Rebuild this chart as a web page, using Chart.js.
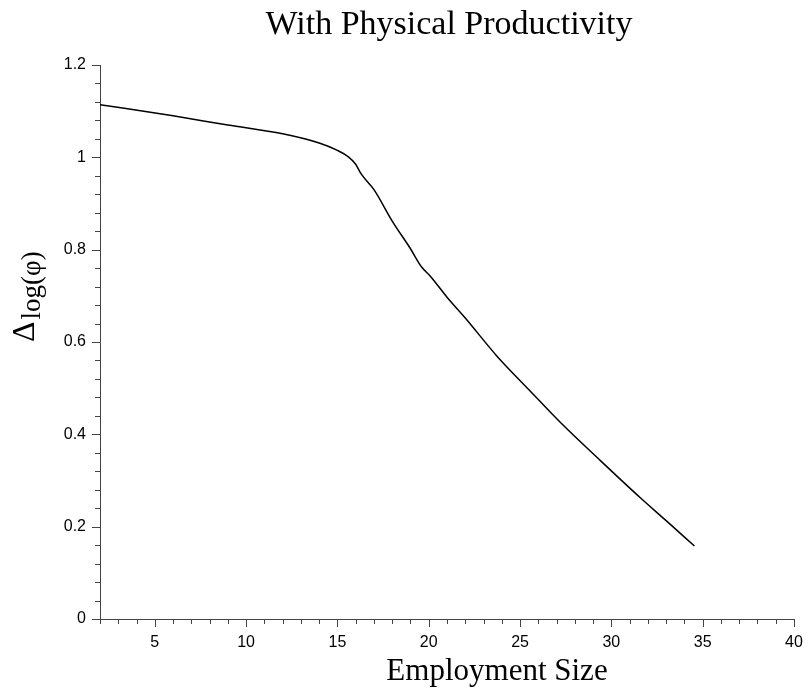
<!DOCTYPE html>
<html>
<head>
<meta charset="utf-8">
<script src="https://cdn.jsdelivr.net/npm/chart.js@4/dist/chart.umd.min.js"></script>
<style>
  html, body { margin: 0; padding: 0; background: #fff; }
  #wrap { width: 808px; height: 698px; }
</style>
</head>
<body>
<div id="wrap"><canvas id="prodChart" width="808" height="698"></canvas></div>
<script>
// employment size (x) and Δ log(φ) (y)
const empSize = [2, 6, 9, 12, 14, 15, 15.6, 16.0, 16.3, 17, 18, 19, 19.6, 20.1, 21, 22, 23.7, 25.5, 27.2, 29.4, 31.6, 33, 34.55];
const deltaLog = [1.114, 1.090, 1.070, 1.051, 1.031, 1.015, 1.001, 0.985, 0.964, 0.930, 0.862, 0.802, 0.763, 0.742, 0.697, 0.652, 0.571, 0.496, 0.426, 0.343, 0.262, 0.213, 0.158];

const xMajor = [5, 10, 15, 20, 25, 30, 35, 40];
const yMajor = [0, 0.2, 0.4, 0.6, 0.8, 1, 1.2];

const chartTitle = "With Physical Productivity";
const xTitle = "Employment Size";

const points = empSize.map((x, i) => ({x: x, y: deltaLog[i]}));

function isMajor(v, list) {
    return list.some(m => Math.abs(m - v) < 1e-6);
}

// tick marks (long majors, short minors) and the text around the plot
const decorPlugin = {
    id: 'decor',
    afterDraw(chart) {
        const ctx = chart.ctx;
        const xs = chart.scales.x, ys = chart.scales.y;
        const area = chart.chartArea;
        ctx.save();
        ctx.strokeStyle = '#444';
        ctx.lineWidth = 1;
        ctx.beginPath();
        xs.ticks.forEach(t => {
            const px = Math.round(xs.getPixelForValue(t.value)) + 0.5;
            const len = isMajor(t.value, xMajor) ? 8 : 5;
            ctx.moveTo(px, area.bottom);
            ctx.lineTo(px, area.bottom + len);
        });
        ys.ticks.forEach(t => {
            const py = Math.round(ys.getPixelForValue(t.value)) + 0.5;
            const len = isMajor(t.value, yMajor) ? 8 : 5;
            ctx.moveTo(area.left, py);
            ctx.lineTo(area.left - len, py);
        });
        ctx.stroke();

        ctx.fillStyle = '#000';
        ctx.textAlign = 'center';
        ctx.textBaseline = 'alphabetic';
        ctx.font = '34px "Liberation Serif", serif';
        ctx.fillText(chartTitle, 449, 34);
        ctx.font = '31px "Liberation Serif", serif';
        ctx.fillText(xTitle, 497, 680);

        // rotated y label: Δ with log(φ) as subscript
        ctx.translate(34, 342);
        ctx.rotate(-Math.PI / 2);
        ctx.textAlign = 'left';
        ctx.font = '32px "Liberation Serif", serif';
        ctx.fillText('Δ', 0, 0);
        const dw = ctx.measureText('Δ').width;
        ctx.font = '27px "Liberation Serif", serif';
        ctx.fillText('log(φ)', dw + 2, 6);
        ctx.restore();
    }
};

new Chart('prodChart', {
    type: 'scatter',
    data: {
        datasets: [{
            data: points,
            showLine: true,
            borderColor: '#000',
            borderWidth: 1.5,
            pointRadius: 0,
            cubicInterpolationMode: 'monotone',
            fill: false
        }]
    },
    options: {
        responsive: false,
        animation: false,
        layout: {
            padding: {top: 65, right: 14, left: 0, bottom: 0}
        },
        plugins: {
            legend: {display: false},
            tooltip: {enabled: false}
        },
        scales: {
            x: {
                type: 'linear',
                min: 2,
                max: 40,
                afterFit: (scale) => {
                    scale.height = 79;
                    scale.paddingLeft = 0;
                    scale.paddingRight = 0;
                },
                grid: {display: true, drawOnChartArea: false, drawTicks: false},
                border: {display: true, color: '#444', width: 1},
                ticks: {
                    stepSize: 1,
                    autoSkip: false,
                    maxRotation: 0,
                    maxTicksLimit: 100,
                    padding: 14,
                    color: '#000',
                    font: {family: '"Liberation Sans", Arial, sans-serif', size: 16},
                    callback: (v) => isMajor(v, xMajor) ? String(Math.round(v)) : ''
                }
            },
            y: {
                type: 'linear',
                min: 0,
                max: 1.2,
                afterFit: (scale) => {
                    scale.width = 100;
                    scale.paddingTop = 0;
                    scale.paddingBottom = 0;
                },
                grid: {display: true, drawOnChartArea: false, drawTicks: false},
                border: {display: true, color: '#444', width: 1},
                ticks: {
                    stepSize: 0.04,
                    autoSkip: false,
                    maxTicksLimit: 100,
                    padding: 14,
                    color: '#000',
                    font: {family: '"Liberation Sans", Arial, sans-serif', size: 16},
                    callback: (v) => isMajor(v, yMajor) ? String(Math.round(v * 5) / 5) : ''
                }
            }
        }
    },
    plugins: [decorPlugin]
});
</script>
</body>
</html>
